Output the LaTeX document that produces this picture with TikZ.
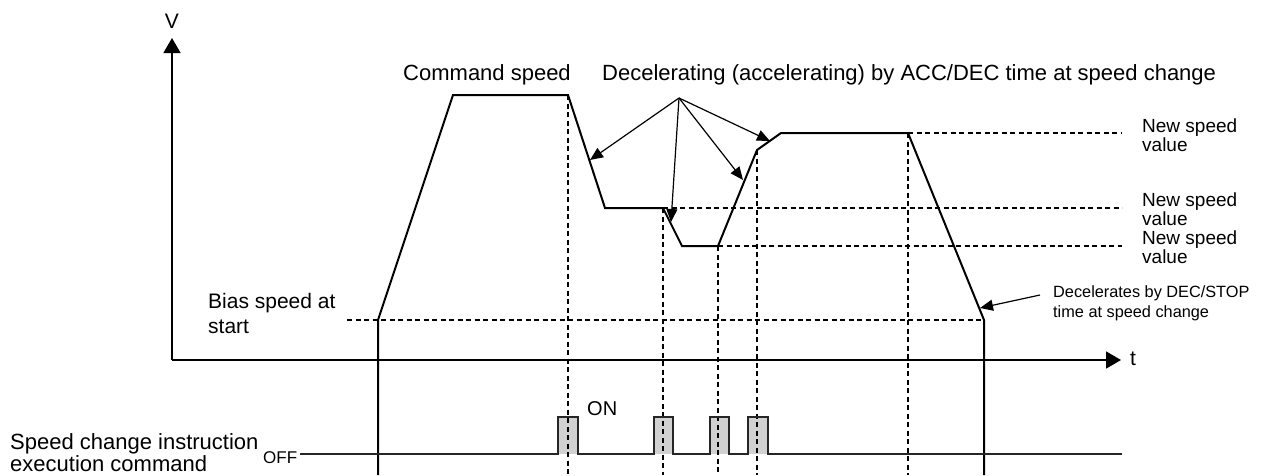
\documentclass[tikz,border=0pt]{standalone}
\usepackage{fontspec}
\setmainfont{Liberation Sans}
\usetikzlibrary{arrows.meta}
\begin{document}
\begin{tikzpicture}[x=1pt,y=-1pt,
  lbl/.style={inner sep=0pt, font=\fontsize{22}{24}\selectfont},
  nsv/.style={inner sep=0pt, align=left, anchor=north west, font=\fontsize{19}{19}\selectfont},
  small/.style={inner sep=0pt, align=left, font=\fontsize{16.3}{20}\selectfont},
  prof/.style={line width=2pt, line join=miter},
  guide/.style={line width=1.3pt, dash pattern=on 5pt off 3.5pt},
  axis/.style={line width=1.5pt, -{Triangle[length=15pt,width=17pt]}},
  ann/.style={line width=1.2pt, -{Triangle[length=13pt,width=11pt]}},
  sig/.style={line width=1.5pt, draw=black!85},
  pulsefill/.style={fill=black!18, draw=none}]
\useasboundingbox (0,0) rectangle (1263,475);

% profile points
\coordinate (p0) at (378,475);
\coordinate (p1) at (378,320);
\coordinate (p2) at (453,95);
\coordinate (p3) at (568,95);
\coordinate (p4) at (605,208);
\coordinate (p5) at (663,208);
\coordinate (p6) at (682,246);
\coordinate (p7) at (718,246);
\coordinate (p8) at (757,150);
\coordinate (p9) at (781,133);
\coordinate (p10) at (908,133);
\coordinate (p11) at (984,320);
\coordinate (p12) at (984,475);

% pulse fills
\foreach \a/\b in {558/578, 654/673, 710/729, 748/768}
  \path[pulsefill] (\a,454) rectangle (\b,417);

% guide lines
\draw[guide] (p3) -- (568,475);
\draw[guide] (p5) -- (663,475);
\draw[guide] (p7) -- (718,475);
\draw[guide] (p8) -- (757,475);
\draw[guide] (p10) -- (908,475);
\draw[guide] (p10) -- (1122,133);
\draw[guide] (p5) -- (1122,208);
\draw[guide] (p7) -- (1122,246);
\draw[guide] (347,320) -- (p11);

% axes
\coordinate (o) at (172,360);
\draw[axis] (o) -- (172,38);
\draw[axis] (o) -- (1121,360);

% profile
\draw[prof] (p0) -- (p1) -- (p2) -- (p3) -- (p4) -- (p5) -- (p6) -- (p7) -- (p8) -- (p9) -- (p10) -- (p11) -- (p12);

% signal
\draw[sig] (300,454) -- (558,454) -- (558,417) -- (578,417) -- (578,454)
  -- (654,454) -- (654,417) -- (673,417) -- (673,454)
  -- (710,454) -- (710,417) -- (729,417) -- (729,454)
  -- (748,454) -- (748,417) -- (768,417) -- (768,454) -- (1122,454);

% annotation arrows
\coordinate (hub) at (679,98);
\coordinate (a1) at (590,160);
\coordinate (a2) at (671,222);
\coordinate (a3) at (743,180);
\coordinate (a4) at (770,141);
\draw[ann] (hub) -- (a1);
\draw[ann] (hub) -- (a2);
\draw[ann] (hub) -- (a3);
\draw[ann] (hub) -- (a4);

% labels
\node[lbl, anchor=base, font=\fontsize{21}{24}\selectfont] (vlab) at (172,28) {V};
\node[lbl, anchor=base west, font=\fontsize{21}{24}\selectfont] (tlab) at (1130,365) {t};
\node[lbl, anchor=base] (cmd) at (487,80) {Command speed};
\node[lbl, anchor=base west] (dec) at (602,80) {Decelerating (accelerating) by ACC/DEC time at speed change};
\node[lbl, align=left, anchor=north west, font=\fontsize{21}{25}\selectfont] (bias) at (208,293) {Bias speed at\\start};
\node[nsv] (ns1) at (1142,119) {New speed\\value};
\node[nsv] (ns2) at (1142,193) {New speed\\value};
\node[nsv] (ns3) at (1142,231) {New speed\\value};
\node[small, anchor=north west] (stop) at (1053,285) {Decelerates by DEC/STOP\\time at speed change};
\coordinate (s1) at (980,308);
\draw[ann] (1040,295) -- (s1);
\node[lbl, align=left, anchor=north west, font=\fontsize{22}{22}\selectfont] (scmd) at (10,433) {Speed change instruction\\execution command};
\node[inner sep=0pt, anchor=base west, font=\fontsize{17}{20}\selectfont] (off) at (263,463) {OFF};
\node[lbl, anchor=base west, font=\fontsize{20}{24}\selectfont] (on) at (587,415) {ON};
\end{tikzpicture}
\end{document}
